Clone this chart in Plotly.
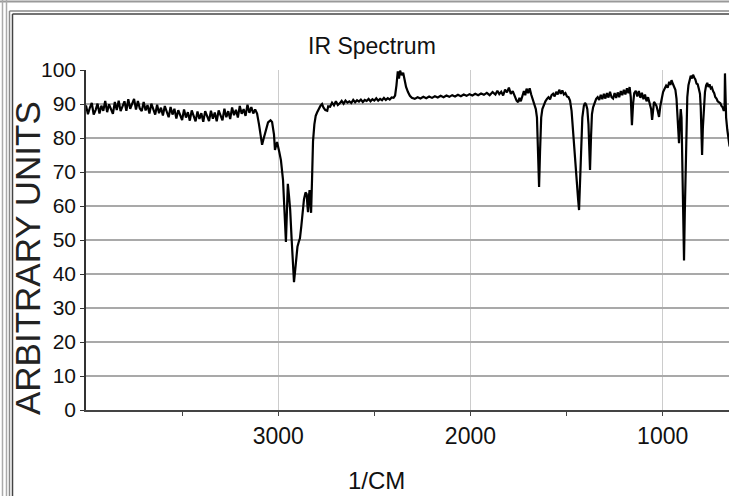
import plotly.graph_objects as go

# ---------------- data ----------------
wavenumber = [
    4000, 3990, 3980, 3970, 3960, 3950, 3940, 3930, 3920, 3910,
    3900, 3890, 3880, 3870, 3860, 3850, 3840, 3830, 3820, 3810,
    3800, 3790, 3780, 3770, 3760, 3750, 3740, 3730, 3720, 3710,
    3700, 3690, 3680, 3670, 3660, 3650, 3640, 3630, 3620, 3610,
    3600, 3590, 3580, 3570, 3560, 3550, 3540, 3530, 3520, 3510,
    3500, 3490, 3480, 3470, 3460, 3450, 3440, 3430, 3420, 3410,
    3400, 3390, 3380, 3370, 3360, 3350, 3340, 3330, 3320, 3310,
    3300, 3290, 3280, 3270, 3260, 3250, 3240, 3230, 3220, 3210,
    3200, 3190, 3180, 3170, 3160, 3150, 3140, 3130, 3120,
    3110, 3100, 3090, 3084, 3075, 3069, 3060, 3053, 3040, 3032,
    3022, 3017, 3010, 3006, 2995, 2986, 2975, 2966, 2960, 2955,
    2950, 2944, 2938, 2930, 2924, 2918, 2912, 2905, 2900, 2893,
    2887, 2880, 2872, 2866, 2858, 2852, 2848, 2845, 2841, 2837,
    2833, 2829, 2824, 2819, 2812, 2805, 2798, 2790, 2780, 2772,
    2765, 2755, 2745, 2740, 2730, 2720, 2710, 2700, 2690, 2680,
    2670, 2660, 2650, 2640, 2630, 2620, 2610, 2600, 2590, 2580,
    2570, 2560, 2550, 2540, 2530, 2520, 2510, 2500, 2490, 2480,
    2470, 2460, 2450, 2440, 2430, 2420, 2410, 2400, 2392, 2385,
    2378, 2372, 2366, 2358, 2350, 2342, 2335, 2325, 2315, 2305,
    2290, 2275, 2260, 2245, 2230, 2215, 2200, 2185, 2170, 2155,
    2140, 2125, 2110, 2095, 2080, 2065, 2050, 2035, 2020, 2005,
    1990, 1975, 1960, 1945, 1930, 1915, 1900, 1885, 1870, 1860,
    1850, 1840, 1830, 1820, 1810, 1800, 1790, 1780, 1770, 1760,
    1752, 1745, 1738, 1730, 1722, 1715, 1708, 1700, 1692, 1684,
    1676, 1668, 1660, 1654, 1648, 1643, 1638, 1632, 1626, 1618,
    1610, 1602, 1594, 1586, 1578, 1570, 1562, 1554, 1546, 1538,
    1530, 1522, 1514, 1506, 1498, 1490, 1482, 1474, 1466, 1458,
    1450, 1446, 1440, 1435, 1430, 1425, 1418, 1410, 1404, 1398,
    1392, 1386, 1382, 1378, 1373, 1368, 1362, 1354, 1346, 1338,
    1330, 1322, 1314, 1306, 1298, 1290, 1282, 1274, 1266, 1258,
    1250, 1242, 1234, 1226, 1218, 1210, 1202, 1194, 1186, 1178,
    1172, 1166, 1160, 1154, 1148, 1140, 1132, 1124, 1116, 1108,
    1100, 1092, 1084, 1076, 1068, 1060, 1055, 1050, 1045, 1040,
    1032, 1026, 1019, 1012, 1005, 998, 990, 982, 974, 966,
    960, 954, 946, 940, 934, 928, 924, 918, 915, 911,
    906, 902, 898, 894, 889, 885, 880, 876, 872, 866,
    860, 854, 848, 842, 836, 830, 824, 818, 812, 806,
    802, 798, 795, 791, 786, 780, 774, 768, 762, 756,
    750, 744, 738, 732, 726, 720, 714, 708, 700, 694,
    688, 682, 678, 676, 674, 670, 664, 658, 652,
]

transmittance = [
    89.6, 87.0, 88.9, 90.3, 86.9, 88.2, 90.1, 87.2, 89.5, 88.0,
    90.9, 87.6, 89.9, 88.4, 87.1, 90.6, 88.2, 91.0, 87.9, 89.3,
    90.8, 88.0, 91.4, 88.6, 90.2, 91.5, 88.4, 90.9, 88.7, 87.9,
    90.6, 88.1, 89.7, 87.2, 90.1, 88.6, 86.9, 89.8, 87.3, 88.9,
    86.6, 89.4, 87.7, 86.1, 89.1, 86.9, 88.6, 85.7, 88.2, 86.8,
    85.3, 88.4, 86.0, 87.6, 85.1, 88.1, 86.4, 84.9, 87.8, 85.6,
    87.3, 84.8, 87.9, 86.2, 85.0, 88.0, 85.7, 87.5, 84.9, 88.1,
    86.4, 85.2, 88.6, 86.1, 87.9, 85.6, 89.0, 86.7, 88.3, 86.0,
    89.4, 87.1, 88.5, 86.5, 89.8, 87.4, 89.1, 87.2, 88.4,
    87.2, 84.0, 80.5, 78.0, 80.0, 81.5, 83.5, 84.6, 85.2, 84.7,
    81.0, 76.5, 78.0, 78.8, 76.0, 73.5, 67.6, 55.0, 49.4, 58.0,
    66.5, 63.0, 59.0, 50.0, 42.0, 37.6, 41.0, 46.5, 48.0, 49.5,
    50.5, 54.0, 58.5, 62.0, 64.0, 63.5, 60.0, 58.2, 62.5, 64.7,
    61.0, 58.0, 68.0, 79.0, 84.0, 86.5, 87.5, 88.6, 89.5, 90.0,
    89.0, 88.2, 88.0, 89.3, 89.2, 90.4, 89.6, 90.8, 89.7, 90.2,
    90.9, 90.1, 91.0, 90.4, 90.8, 90.3, 91.2, 90.5, 91.1, 90.7,
    91.3, 90.6, 91.2, 90.9, 91.5, 90.8, 91.4, 91.0, 91.7, 91.0,
    91.5, 91.1, 91.8, 91.2, 91.7, 91.3, 91.9, 91.8, 92.5, 95.5,
    99.6, 97.5, 99.8, 98.5, 99.2, 97.0, 95.0, 93.5, 92.4, 91.8,
    91.5, 92.0, 91.6, 92.1, 91.7, 92.2, 91.8, 92.3, 91.9, 92.4,
    92.0, 92.5, 92.1, 92.6, 92.2, 92.7, 92.3, 92.8, 92.4, 92.9,
    92.5, 93.0, 92.6, 93.1, 92.7, 93.3, 92.6, 93.5, 92.8, 93.9,
    92.9, 93.6, 92.5, 94.2, 93.4, 94.8, 93.0, 93.8, 92.2, 91.0,
    90.5, 91.8, 90.8, 92.5, 93.8, 92.6, 94.5, 93.2, 94.6, 92.8,
    91.5, 90.2, 88.5, 86.0, 75.0, 65.6, 76.0, 86.0, 88.5, 90.0,
    90.8, 91.5, 92.0, 91.4, 92.6, 93.0, 92.2, 93.6, 92.8, 94.2,
    93.0, 94.0, 92.8, 93.2, 92.2, 92.0, 91.0, 88.0, 82.0, 74.0,
    67.0, 65.6, 62.0, 58.8, 68.0, 78.5, 86.0, 89.5, 90.3, 89.8,
    88.5, 84.0, 76.0, 70.6, 80.0, 87.0, 89.0, 90.6, 91.5, 92.0,
    91.2, 92.7, 91.4, 93.0, 91.6, 93.2, 91.9, 93.6, 92.0, 91.6,
    93.2, 91.8, 93.4, 92.0, 93.8, 92.6, 94.2, 92.8, 94.6, 93.2,
    95.0, 92.0, 83.8, 90.0, 93.2, 93.9, 92.2, 93.8, 91.8, 93.3,
    91.4, 92.8, 90.8, 92.0, 90.3, 88.5, 85.3, 88.8, 90.6, 90.2,
    89.4, 88.0, 86.2, 89.5, 92.0, 93.5, 94.5, 95.4, 94.8, 96.5,
    95.6, 97.0, 95.8, 95.0, 94.2, 91.5, 88.0, 80.0, 78.5, 84.0,
    88.5, 86.0, 76.0, 62.0, 44.0, 58.0, 75.0, 85.0, 92.0, 95.5,
    97.0, 98.3, 97.5, 98.6, 97.8, 97.2, 96.0, 95.8, 94.5, 93.0,
    89.0, 80.0, 75.0, 83.0, 90.0, 93.5, 95.5, 96.2, 95.0, 95.8,
    94.6, 94.9, 93.8, 93.2, 92.0, 91.6, 90.8, 90.5, 90.2, 89.4,
    89.0, 88.0, 89.0, 99.0, 89.0, 86.0, 82.5, 79.5, 77.5,
]

y_ticks = [0, 10, 20, 30, 40, 50, 60, 70, 80, 90, 100]
x_ticks = [3000, 2000, 1000]
x_tick_labels = ["3000", "2000", "1000"]
x_minor_ticks = [3500, 2500, 1500]

title_text = "IR Spectrum"
x_title = "1/CM"
y_title = "ARBITRARY UNITS"

# ---------------- figure ----------------
W, H = 729, 496
ML, MR, MT, MB = 86, 0, 70, 86
PW, PH = W - ML - MR, H - MT - MB

def px_x(px):
    return (px - ML) / PW

def px_y(py):
    return (H - MB - py) / PH

FONT = "Liberation Sans, Arial, sans-serif"

fig = go.Figure()
fig.add_trace(go.Scatter(
    x=wavenumber, y=transmittance, mode="lines",
    line=dict(color="#000000", width=2.2),
    showlegend=False, hoverinfo="skip",
))

fig.update_layout(
    width=W, height=H,
    margin=dict(l=ML, r=MR, t=MT, b=MB, pad=0),
    paper_bgcolor="#ffffff", plot_bgcolor="#ffffff",
    showlegend=False,
    xaxis=dict(
        range=[4000, 655], tickvals=x_ticks, ticktext=x_tick_labels,
        showgrid=True, gridcolor="#cccccc", gridwidth=1,
        showline=True, linecolor="#444444", linewidth=2,
        ticks="outside", ticklen=4, tickcolor="#444444", tickwidth=1,
        minor=dict(tickvals=x_minor_ticks, ticks="outside", ticklen=4,
                   tickcolor="#444444", tickwidth=1, showgrid=False),
        tickfont=dict(family=FONT, size=23, color="#111111"),
        zeroline=False, fixedrange=True,
    ),
    yaxis=dict(
        range=[0, 100], tickvals=y_ticks,
        showgrid=True, gridcolor="#a9a9a9", gridwidth=2,
        showline=True, linecolor="#333333", linewidth=1.5,
        ticks="outside", ticklen=4, tickcolor="#333333", tickwidth=1,
        tickfont=dict(family=FONT, size=21, color="#111111"),
        zeroline=False, fixedrange=True,
    ),
)

fig.add_annotation(text=title_text, xref="paper", yref="paper",
                   x=px_x(372), y=px_y(46), xanchor="center", yanchor="middle",
                   showarrow=False, font=dict(family=FONT, size=23, color="#111111"))
fig.add_annotation(text=x_title, xref="paper", yref="paper",
                   x=px_x(376), y=px_y(480), xanchor="center", yanchor="middle",
                   showarrow=False, font=dict(family=FONT, size=24, color="#111111"))
fig.add_annotation(text=y_title, xref="paper", yref="paper",
                   x=px_x(27), y=px_y(258), xanchor="center", yanchor="middle",
                   textangle=-90, showarrow=False,
                   font=dict(family=FONT, size=35, color="#222222"))

# window frame decorations
frame = [
    (0, 1.5, W, 1.5, "#999999", 2),
    (2.5, 0, 2.5, H, "#aaaaaa", 1.5),
    (6.5, 0, 6.5, H, "#aaaaaa", 1.5),
    (9.5, 11, W, 11, "#888888", 1.5),
    (12.5, 14, W, 14, "#444444", 1.5),
    (9.5, 11, 9.5, H, "#888888", 1.5),
    (12.5, 14, 12.5, H, "#444444", 1.5),
]
for x0, y0, x1, y1, c, w in frame:
    fig.add_shape(type="line", xref="paper", yref="paper",
                  x0=px_x(x0), y0=px_y(y0), x1=px_x(x1), y1=px_y(y1),
                  line=dict(color=c, width=w), layer="above")

fig.write_html("out.html", config={"displayModeBar": False},
               post_script="document.body.style.margin='0px';")
